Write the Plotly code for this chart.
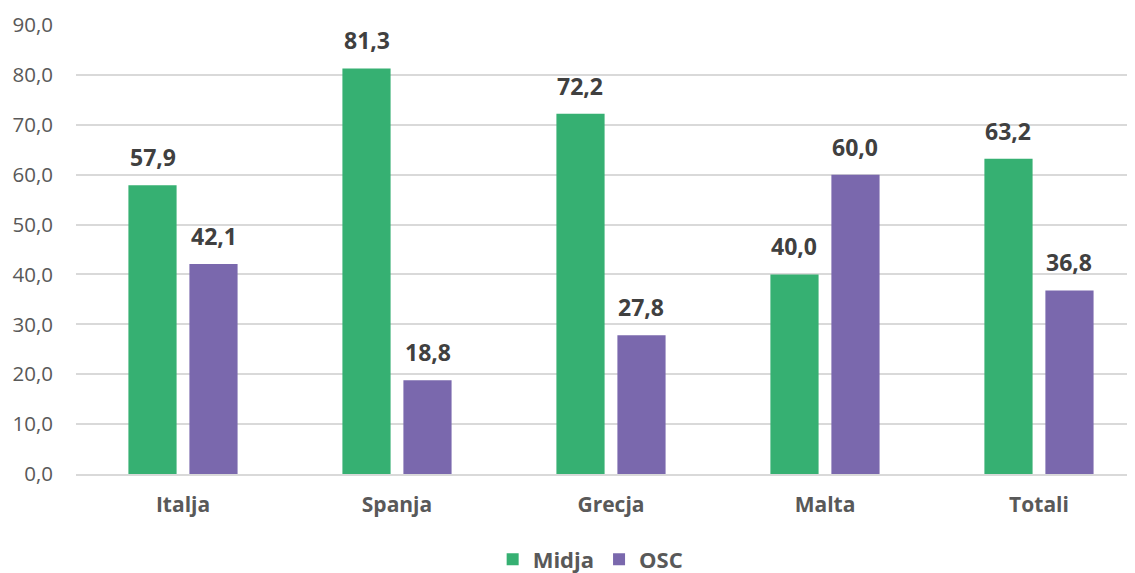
import plotly.graph_objects as go

categories = ["Italja", "Spanja", "Grecja", "Malta", "Totali"]
midja = [57.9, 81.3, 72.2, 40.0, 63.2]
osc = [42.1, 18.8, 27.8, 60.0, 36.8]
series_names = ["Midja", "OSC"]
colors = ["#36B072", "#7A68AD"]
tick_vals = [0, 10, 20, 30, 40, 50, 60, 70, 80, 90]
tick_text = [f"{v:.1f}".replace(".", ",") for v in tick_vals]

FONT = "Open Sans"

fig = go.Figure()
for name, vals, col in zip(series_names, [midja, osc], colors):
    fig.add_trace(go.Bar(x=categories, y=vals, name=f"<b>{name}</b>",
                         marker=dict(color=col, line=dict(width=0))))

for vals, shift in [(midja, -30.5), (osc, 30.5)]:
    for c, v in zip(categories, vals):
        fig.add_annotation(x=c, y=v, text=f"<b>{v:.1f}</b>".replace(".", ","),
                           showarrow=False, xshift=shift, yanchor="bottom", yshift=10,
                           font=dict(family=FONT, size=23, color="#404040"))

fig.update_layout(
    width=1127, height=565,
    margin=dict(l=68, r=1, t=17, b=99),
    paper_bgcolor="white", plot_bgcolor="white",
    barmode="group", bargap=0.43, bargroupgap=0.21,
    font=dict(family=FONT, color="#595959"),
    showlegend=True,
    legend=dict(orientation="h", x=0.517, xanchor="center", xref="container",
                y=0.024, yanchor="middle", yref="container",
                font=dict(family=FONT, size=22, color="#595959"),
                traceorder="normal", itemsizing="constant"),
    xaxis=dict(range=[-0.5, 4.444], showgrid=False, showline=True, linecolor="#D9D9D9",
               linewidth=1.5, ticks="", ticklabelstandoff=11,
               tickfont=dict(family=FONT, size=21, color="#595959")),
    yaxis=dict(range=[0, 90], tickvals=tick_vals, ticktext=tick_text, showgrid=True,
               gridcolor="#D9D9D9", gridwidth=1.5, zeroline=False, showline=False, ticks="",
               ticklabelstandoff=22,
               tickfont=dict(family=FONT, size=20.5, color="#595959")),
)
fig.update_xaxes(tickprefix="<b>", ticksuffix="</b>")

fig.write_html("out.html")
